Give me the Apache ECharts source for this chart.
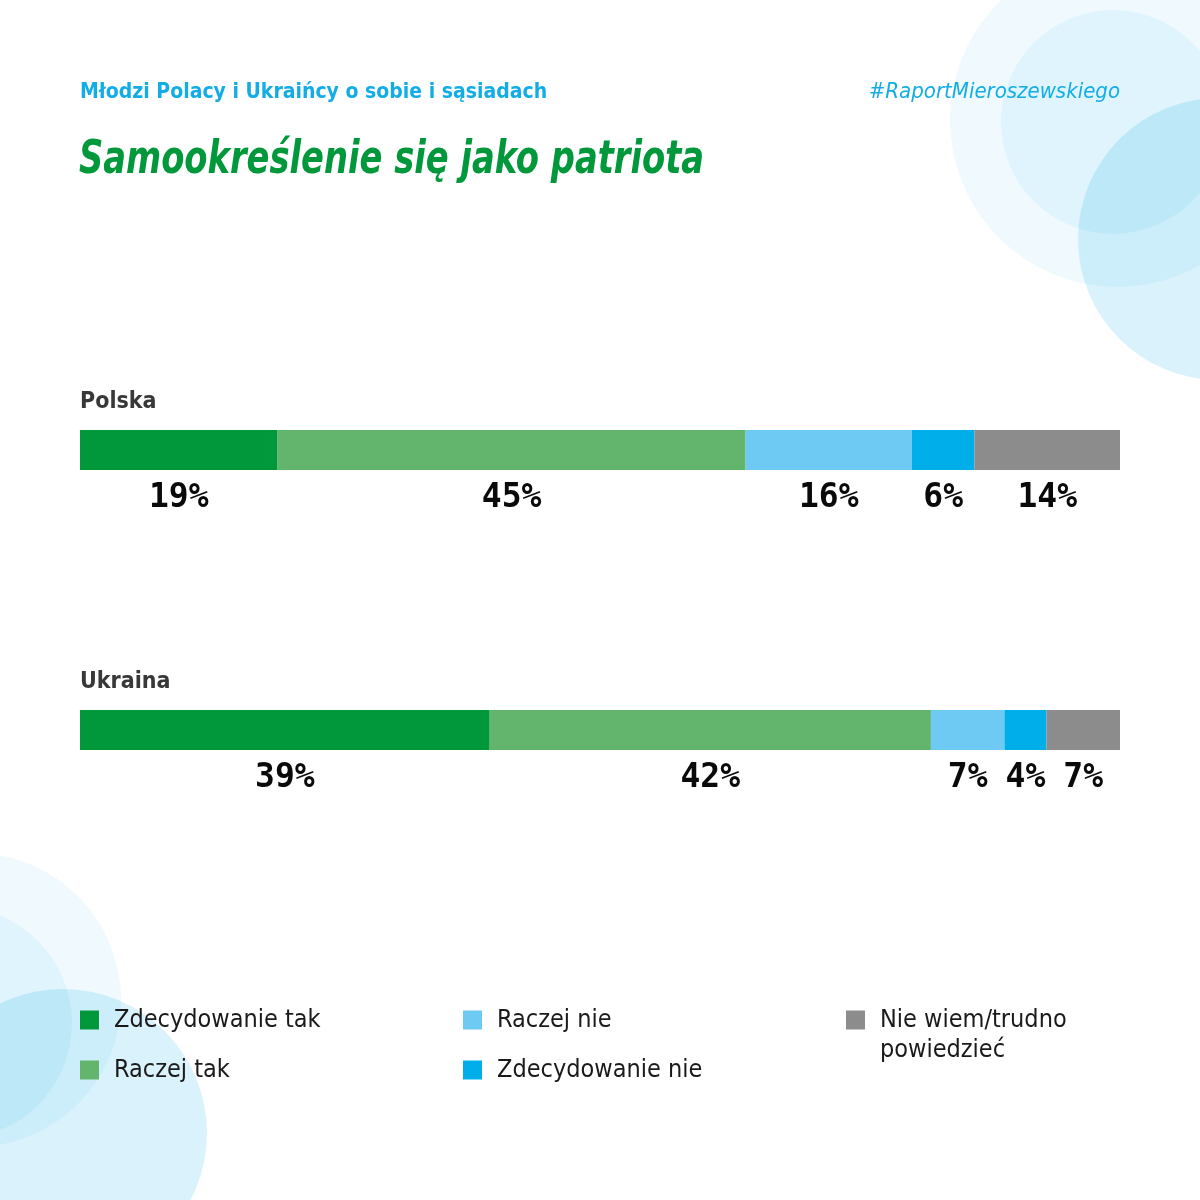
<!DOCTYPE html>
<html>
<head>
<meta charset="utf-8">
<title>Samookreślenie się jako patriota</title>
<script src="https://cdn.jsdelivr.net/npm/echarts@6/dist/echarts.min.js"></script>
<style>
  html, body { margin: 0; padding: 0; background: #fff; }
  #chart { width: 1200px; height: 1200px; }
</style>
</head>
<body>
<div id="chart"></div>
<script>
// dane z wykresu
var categories = ['Polska', 'Ukraina'];
var answers = ['Zdecydowanie tak', 'Raczej tak', 'Raczej nie', 'Zdecydowanie nie', 'Nie wiem/trudno powiedzieć'];
var polska = [19, 45, 16, 6, 14];
var ukraina = [39, 42, 7, 4, 7];
var colors = ['#00983a', '#63b46d', '#6ec9f3', '#00afea', '#8c8c8c'];

var condensed = "'DejaVu Sans Condensed', 'Liberation Sans Narrow', Roboto, sans-serif";
var rows = [polska, ukraina];
var gridTops = [430, 710];

function sum(arr){
    var s = 0;
    for (var i = 0; i < arr.length; i++) s += arr[i];
    return s;
}

var grids = [], xAxes = [], yAxes = [], series = [];
rows.forEach(function(row, r){
    grids.push({left: 80, right: 80, top: gridTops[r], height: 40});
    xAxes.push({type: 'value', gridIndex: r, min: 0, max: sum(row), show: false});
    yAxes.push({
        type: 'category', gridIndex: r, data: [categories[r]]
        ,name: categories[r], nameLocation: 'end', nameGap: 16
        ,nameTextStyle: {align: 'left', verticalAlign: 'bottom', fontFamily: condensed, fontWeight: 'bold', fontSize: 23, color: '#383838', padding: 0}
        ,axisLine: {show: false}, axisTick: {show: false}, axisLabel: {show: false}, splitLine: {show: false}
    });
    answers.forEach(function(name, k){
        series.push({
            name: name, type: 'bar', stack: 'row' + r
            ,xAxisIndex: r, yAxisIndex: r
            ,barWidth: 40
            ,itemStyle: {color: colors[k]}
            ,label: {
                show: true, position: 'bottom', distance: 12
                ,formatter: '{c}%'
                ,fontFamily: "'DejaVu Sans Mono', 'Liberation Mono', monospace"
                ,fontWeight: 'bold', fontSize: 33, color: '#0a0a0a'
            }
            ,emphasis: {disabled: true}
            ,data: [row[k]]
        });
    });
});

// legenda w trzech kolumnach
var legendText = {fontFamily: condensed, fontSize: 25, lineHeight: 30, color: '#1a1a1a', padding: [0, 0, 0, 10]};
var legends = [
    {data: [answers[0], answers[1]], left: 80, top: 1005}
    ,{data: [answers[2], answers[3]], left: 463, top: 1005}
    ,{data: [answers[4]], left: 846, top: 975
        // pusta linia na gorze, zeby kwadrat stal przy pierwszym wierszu
        ,formatter: function(n){ return '\n' + n.replace(' powiedzieć', '\npowiedzieć'); }}
].map(function(l){
    return Object.assign({
        orient: 'vertical', icon: 'rect', itemWidth: 19, itemHeight: 19, itemGap: 20
        ,padding: 0, selectedMode: false, textStyle: legendText
    }, l);
});

// kola w tle
function circle(cx, cy, r, a){
    return {type: 'circle', silent: true, z: -10, shape: {cx: cx, cy: cy, r: r}, style: {fill: 'rgba(0,170,230,' + a + ')'}};
}

var chart = echarts.init(document.getElementById('chart'));
chart.setOption({
    backgroundColor: '#fff'
    ,animation: false
    ,graphic: [
        circle(1117, 120, 167, 0.06)
        ,circle(1113, 122, 112, 0.07)
        ,circle(1219, 239, 141, 0.15)
        ,circle(-26, 1000, 147, 0.06)
        ,circle(-44, 1023, 116, 0.07)
        ,circle(63, 1133, 144, 0.15)
        // glowny tytul, zwezony jak w oryginale
        ,{type: 'text', x: 79, y: 161, scaleX: 0.815, silent: true, z: 10
            ,style: {text: 'Samookreślenie się jako patriota', fontFamily: condensed, fontStyle: 'italic', fontWeight: 'bold', fontSize: 46, fill: '#00983a', verticalAlign: 'middle'}}
    ]
    ,title: [
        {text: 'Młodzi Polacy i Ukraińcy o sobie i sąsiadach', left: 80, top: 82, padding: 0
            ,textStyle: {fontFamily: condensed, fontWeight: 'bold', fontSize: 21, color: '#12ade6'}}
        ,{text: '#RaportMieroszewskiego', right: 80, top: 81, padding: 0
            ,textStyle: {fontFamily: condensed, fontStyle: 'italic', fontWeight: 'normal', fontSize: 22, color: '#12ade6'}}
    ]
    ,legend: legends
    ,grid: grids
    ,xAxis: xAxes
    ,yAxis: yAxes
    ,series: series
});
</script>
</body>
</html>
